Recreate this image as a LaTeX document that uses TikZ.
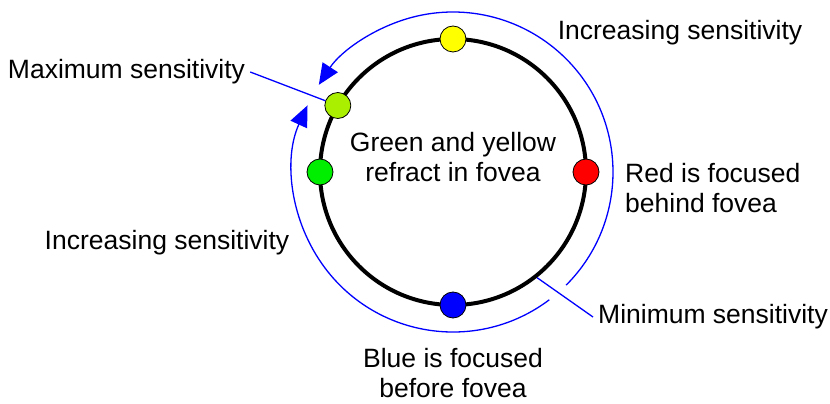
\documentclass[tikz,border=0pt]{standalone}
\usepackage{fontspec}
\setmainfont{Liberation Sans}
\usetikzlibrary{arrows.meta}
\definecolor{dotyellow}{HTML}{FFFF00}
\definecolor{dotlime}{HTML}{AAEE00}
\definecolor{dotgreen}{HTML}{00EE00}
\definecolor{dotred}{HTML}{FF0000}
\definecolor{dotblue}{HTML}{0000FF}
\definecolor{sweepblue}{HTML}{0000FF}

\begin{document}
\begin{tikzpicture}[
    spot/.style={circle, draw=black, line width=0.8pt, minimum size=26pt, inner sep=0pt},
    caption/.style={font=\fontsize{26.5}{30}\selectfont, inner sep=5pt},
    leader/.style={draw=sweepblue, line width=1.3pt},
    sweep/.style={draw=sweepblue, line width=1.3pt, -{Triangle[length=21pt, width=18pt]}}]
  \def\r{133pt}
  \def\R{160pt}
  \useasboundingbox (-453pt,-232pt) rectangle (377pt,172pt);
  % the ring
  \draw[line width=4pt] (0,0) circle (\r);
  % the two sweeps
  \draw[sweep] (-45:\R) arc[start angle=-45, end angle=147, radius=\R];
  \draw[sweep] (-53:\R) arc[start angle=-53, end angle=-204.6, radius=\R];
  % colour spots on the ring
  \node[spot, fill=dotyellow] (yel)  at (90:\r)  {};
  \node[spot, fill=dotlime]   (lime) at (150:\r) {};
  \node[spot, fill=dotgreen]  (grn)  at (180:\r) {};
  \node[spot, fill=dotred]    (red)  at (0:\r)   {};
  \node[spot, fill=dotblue]   (blu)  at (-90:\r) {};
  % captions
  \node[caption] (inctop) at (227pt,139pt) {Increasing sensitivity};
  \node[caption] (incleft) at (-286pt,-71pt) {Increasing sensitivity};
  \node[caption] (maxlbl) at (-326.5pt,100pt) {Maximum sensitivity};
  \node[caption, anchor=west] (minlbl) at (140pt,-145pt) {Minimum sensitivity};
  \node[caption, align=center] (mid) at (0pt,14.5pt) {Green and yellow\\refract in fovea};
  \node[caption, align=left, anchor=west] (redlbl) at (167pt,-16pt) {Red is focused\\behind fovea};
  \node[caption, align=center, inner sep=1pt] (blulbl) at (0pt,-201pt) {Blue is focused\\before fovea};
  % leader lines
  \coordinate (minpt) at (-51.5:135pt);
  \draw[leader] (maxlbl.east) -- (lime);
  \draw[leader] (minlbl.west) -- (minpt);
\end{tikzpicture}
\end{document}
